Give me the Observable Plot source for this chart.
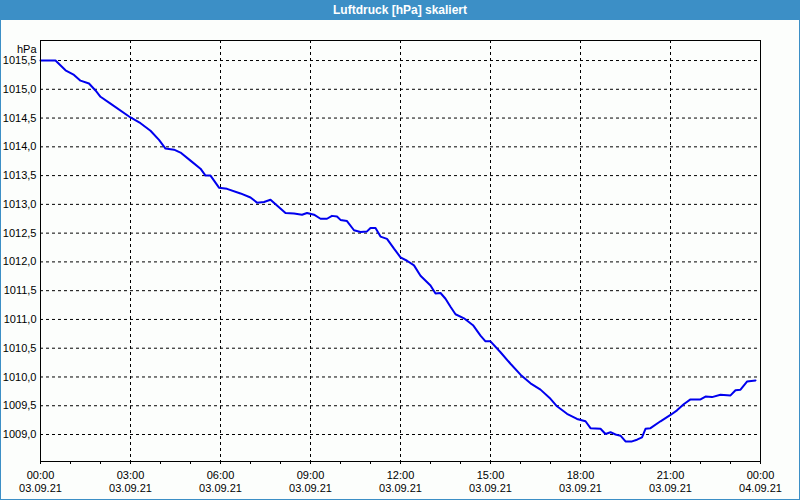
<!DOCTYPE html>
<html>
<head>
<meta charset="utf-8">
<script src="https://cdn.jsdelivr.net/npm/d3@7"></script>
<script src="https://cdn.jsdelivr.net/npm/@observablehq/plot@0.6"></script>
<style>
  html, body { margin: 0; padding: 0; background: #fcfefc; }
  #wrap { position: relative; width: 800px; height: 500px; overflow: hidden; background: #fcfefc; font-family: "Liberation Sans", Arial, sans-serif; }
  #title { height: 20px; line-height: 20px; background: #3c8fc6; color: #ffffff; font-weight: bold; font-size: 12px; text-align: center; }
  #border { position: absolute; left: 0; top: 0; width: 800px; height: 500px; box-sizing: border-box; border: 1px solid #3c8fc6; border-top: none; pointer-events: none; }
  svg { display: block; }
</style>
</head>
<body>
<div id="wrap">
  <div id="title">Luftdruck [hPa] skaliert</div>
  <div id="chart"></div>
  <div id="border"></div>
</div>
<script>
// minutes since 03.09.21 00:00
const minutes = [0,30,50,67,80,97,110,120,140,180,200,220,237,250,267,280,300,320,330,340,357,373,400,420,433,447,460,473,490,507,523,533,547,560,573,583,593,600,613,627,640,653,660,670,680,693,707,720,733,747,760,780,790,800,810,820,830,847,865,880,890,900,920,940,960,980,1000,1020,1033,1053,1073,1090,1100,1120,1130,1140,1150,1160,1170,1183,1193,1203,1210,1220,1240,1260,1273,1287,1300,1320,1330,1343,1360,1380,1390,1400,1413,1430];
const pressure = [1015.5,1015.5,1015.33,1015.25,1015.15,1015.1,1014.98,1014.87,1014.75,1014.51,1014.41,1014.28,1014.12,1013.97,1013.95,1013.9,1013.76,1013.62,1013.5,1013.5,1013.29,1013.27,1013.19,1013.12,1013.03,1013.04,1013.08,1012.98,1012.85,1012.84,1012.82,1012.85,1012.82,1012.75,1012.75,1012.8,1012.79,1012.73,1012.71,1012.55,1012.52,1012.53,1012.59,1012.59,1012.44,1012.4,1012.23,1012.08,1012.02,1011.94,1011.76,1011.59,1011.45,1011.46,1011.36,1011.22,1011.09,1011.02,1010.9,1010.72,1010.62,1010.62,1010.43,1010.23,1010.04,1009.89,1009.78,1009.62,1009.49,1009.36,1009.27,1009.23,1009.11,1009.1,1009.01,1009.04,1009.0,1008.98,1008.88,1008.88,1008.91,1008.95,1009.1,1009.11,1009.23,1009.34,1009.42,1009.53,1009.61,1009.61,1009.66,1009.65,1009.69,1009.68,1009.77,1009.78,1009.92,1009.94];
const yTicks = [1009.0,1009.5,1010.0,1010.5,1011.0,1011.5,1012.0,1012.5,1013.0,1013.5,1014.0,1014.5,1015.0,1015.5];
const xTickTimes = ["00:00","03:00","06:00","09:00","12:00","15:00","18:00","21:00","00:00"];
const xTickDates = ["03.09.21","03.09.21","03.09.21","03.09.21","03.09.21","03.09.21","03.09.21","03.09.21","04.09.21"];
const xMajor = [0,180,360,540,720,900,1080,1260,1440];
const xHourly = d3.range(0, 1441, 60);
const xGrid = [180,360,540,720,900,1080,1260];

const data = minutes.map((m, i) => ({m, v: pressure[i]}));

const chart = Plot.plot({
  width: 800,
  height: 480,
  marginTop: 20,
  marginBottom: 39,
  marginLeft: 40,
  marginRight: 40,
  style: {background: "transparent", fontFamily: "'Liberation Sans', Arial, sans-serif", fontSize: "11px", color: "#000"},
  x: {domain: [0, 1440], axis: null, label: null},
  y: {domain: [1008.531, 1015.848], axis: null, label: null},
  marks: [
    Plot.gridY(yTicks, {stroke: "#000", strokeOpacity: 1, strokeDasharray: "3,3"}),
    Plot.gridX(xGrid, {stroke: "#000", strokeOpacity: 1, strokeDasharray: "3,3"}),
    Plot.line(data, {x: "m", y: "v", stroke: "#0000ee", strokeWidth: 2}),
    Plot.frame({stroke: "#000"}),
    Plot.axisX(xHourly, {tickSize: 3, tickFormat: () => "", stroke: "#000", label: null}),
    Plot.axisX(xMajor, {tickSize: 0, tickPadding: 8, lineHeight: 1.2, fill: "#000", label: null,
      tickFormat: (d) => { const i = xMajor.indexOf(d); return xTickTimes[i] + "\n" + xTickDates[i]; }}),
    Plot.axisY(yTicks, {tickSize: 0, tickPadding: 4, fill: "#000", label: null, tickFormat: (d) => d.toFixed(1).replace(".", ",")}),
    Plot.text(["hPa"], {frameAnchor: "top-left", dx: -4, dy: 5, textAnchor: "end", fill: "#000"})
  ]
});
document.getElementById("chart").appendChild(chart);
</script>
</body>
</html>
